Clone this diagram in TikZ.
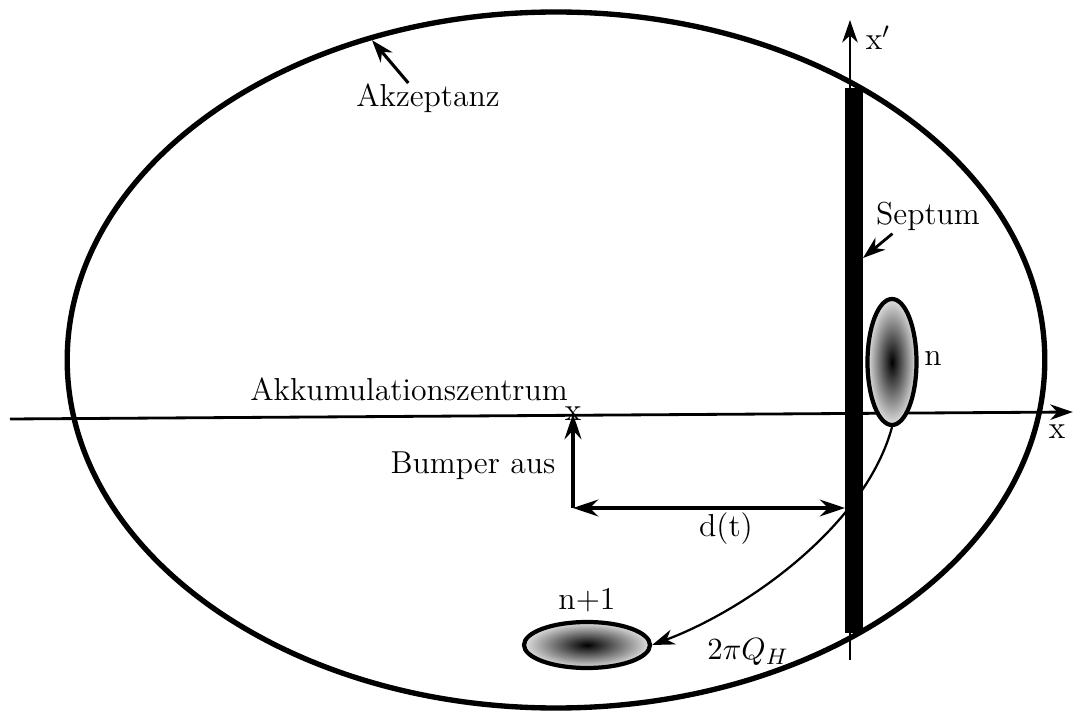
\documentclass[tikz,border=0pt]{standalone}
\usepackage{amsmath,amssymb}
\usepackage{tikz}
\usetikzlibrary{arrows.meta,positioning,shapes.geometric}

\begin{document}
\begin{tikzpicture}[
  every node/.style={font=\fontsize{11.3}{13.5}\selectfont},
  lab/.style={inner sep=1pt},
  tip/.style={-{Stealth[length=8pt,width=5.5pt,inset=2.5pt]}},
  bunch/.style={ellipse,draw,line width=1.5pt,inner sep=0pt,
    inner color=black,outer color=black!12}]
\useasboundingbox (0,0) rectangle (13.4125,8.9125);
% Akzeptanz
\draw[line width=1.9pt] (6.95,4.4125) ellipse (6.11 and 4.35);
\coordinate (acc) at (4.65,8.41);
\node[lab] (akz) at (5.35,7.6875) {Akzeptanz};
\draw[line width=1.1pt,tip] ([xshift=-7pt,yshift=-1pt]akz.north) -- (acc);
% Achsen
\coordinate (xl) at (0.125,3.675);
\coordinate (xr) at (13.41,3.7625);
\coordinate (yb) at (10.625,0.6625);
\coordinate (yt) at (10.625,8.6625);
\draw[line width=1pt,tip] (xl) -- (xr);
\draw[line width=1pt,tip] (yb) -- (yt);
\node (xlab) at (13.2125,3.5125) {x};
\node (ylab) at (10.975,8.4375) {x$'$};
% Septum
\fill (10.5625,1.0) rectangle (10.7875,7.8125);
\coordinate (sepR) at (10.7875,5.6875);
\coordinate (sepL) at (10.5625,2.5625);
\node[lab] (sept) at (11.6,6.2125) {Septum};
\draw[line width=1pt,tip] ([xshift=7pt]sept.south west) -- (sepR);
% Strahl n und n+1
\node[bunch,minimum width=0.6125cm,minimum height=1.575cm] (bn) at (11.15,4.3875) {};
\node (nlab) at (11.6625,4.4375) {n};
\node[bunch,minimum width=1.575cm,minimum height=0.575cm] (bn1) at (7.3375,0.85) {};
\node (n1lab) at (7.3375,1.4125) {n+1};
\draw[line width=0.8pt,tip] (bn.south) .. controls (10.82,2.35) and (9.35,1.3) .. (bn1.east);
\node (qh) at (9.35,0.7625) {$2\pi Q_H$};
% Bumper
\node (akk) at (5.1125,4.05) {Akkumulationszentrum};
\node[inner sep=0pt] (zent) at (7.1625,3.74) {x};
\node (bump) at (5.9125,3.0875) {Bumper aus};
\coordinate (corner) at (7.1625,2.5625);
\draw[line width=1.2pt,-{Stealth[length=9pt,width=6pt,inset=3pt]}] (corner) -- (zent.center);
\draw[line width=1.2pt,{Stealth[length=9pt,width=6pt,inset=3pt]}-{Stealth[length=9pt,width=6pt,inset=3pt]}] (corner) -- (sepL);
\node (dt) at (9.075,2.3) {d(t)};
\end{tikzpicture}
\end{document}
